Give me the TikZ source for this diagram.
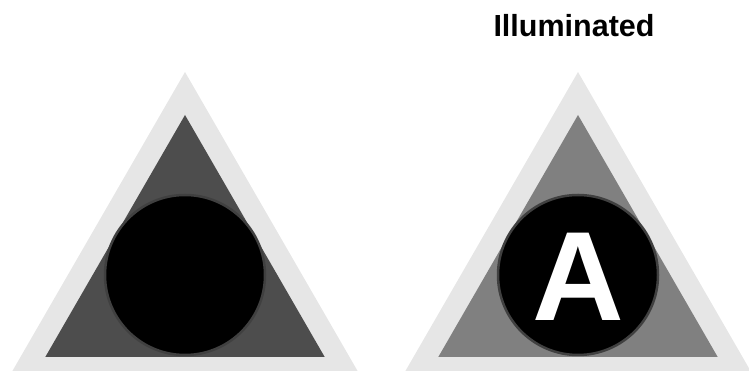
\documentclass[tikz,border=0pt]{standalone}
\usepackage{fontspec}
\setmainfont{Liberation Sans}
\definecolor{rim}{HTML}{E6E6E6}
\definecolor{darkfill}{HTML}{4D4D4D}
\definecolor{litfill}{HTML}{808080}
\definecolor{ringline}{HTML}{404040}
\tikzset{
  outertri/.style={fill=rim},
  lens/.style={circle,fill=black,draw=ringline,line width=2.5pt,minimum size=160pt,inner sep=0pt}
}
\begin{document}
\begin{tikzpicture}[x=1pt,y=1pt]
  \useasboundingbox (0,0) rectangle (749,371);
  \clip (0,0) rectangle (749,371);
  % left sign: dark
  \fill[outertri] (185,299) -- (12.4,0) -- (357.6,0) -- cycle;
  \fill[darkfill] (185,256) -- (45.3,14) -- (324.7,14) -- cycle;
  \node[lens] (leftlens) at (185,96) {};
  % right sign: illuminated
  \fill[outertri] (578,299) -- (405.4,0) -- (750.6,0) -- cycle;
  \fill[litfill] (578,256) -- (438.3,14) -- (717.7,14) -- cycle;
  \node[lens] (rightlens) at (578,96) {};
  \node[anchor=base,text=white,font=\fontsize{127}{127}\selectfont\bfseries,inner sep=0pt]
    (letter) at (578,50) {A};
  \node[anchor=base,font=\fontsize{30.5}{31}\selectfont\bfseries,inner sep=0pt]
    (title) at (574,334.3) {Illuminated};
\end{tikzpicture}
\end{document}
